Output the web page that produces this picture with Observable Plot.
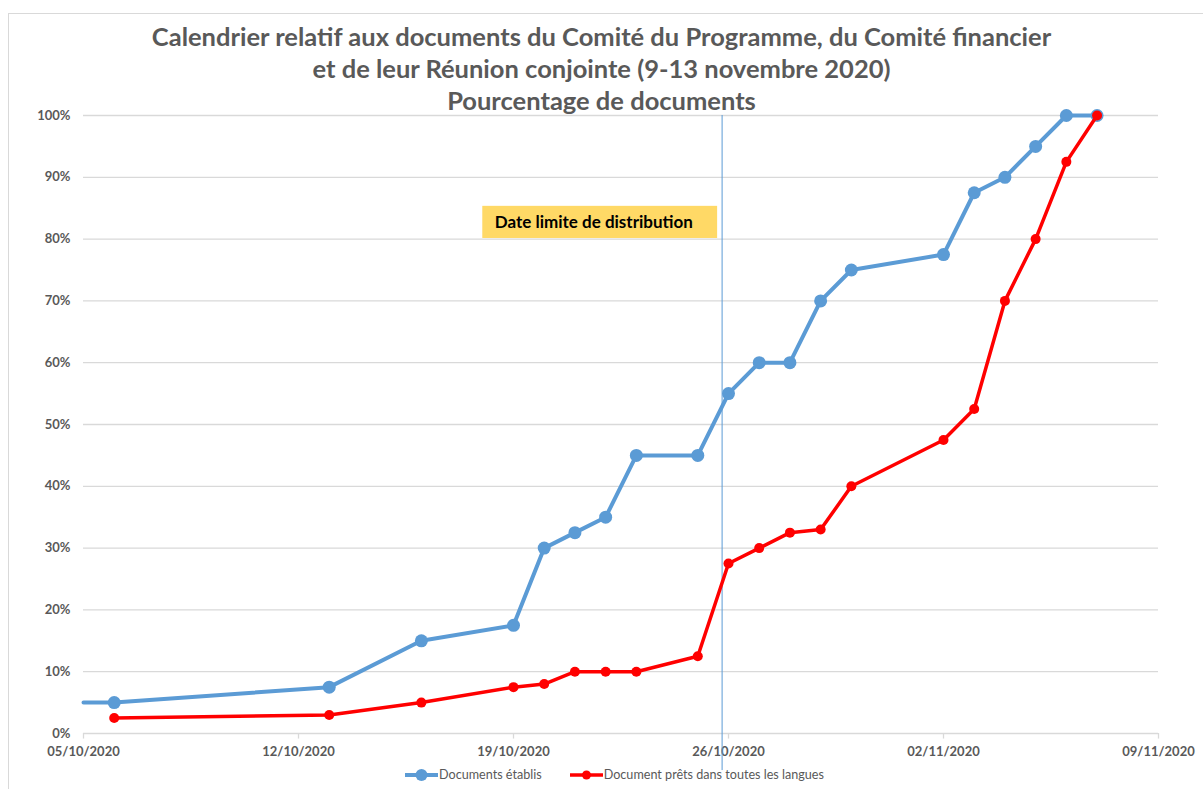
<!DOCTYPE html>
<html>
<head>
<meta charset="utf-8">
<script src="https://cdn.jsdelivr.net/npm/d3@7"></script>
<script src="https://cdn.jsdelivr.net/npm/@observablehq/plot@0.6"></script>
<style>
  html, body { margin: 0; padding: 0; background: #fff; }
  #wrap { position: relative; width: 1203px; height: 789px; overflow: hidden; font-family: Lato, "Open Sans", sans-serif; }
  #frame { position: absolute; left: 8px; top: 13px; width: 1300px; height: 900px; border: 1px solid #d9d9d9; box-sizing: border-box; }
  #title { position: absolute; left: 0; top: 20px; width: 1203px; text-align: center; font-weight: bold; font-size: 25.5px; line-height: 32px; color: #595959; z-index: 2; }
  #chart { position: absolute; left: 0; top: 0; }
  #legend { position: absolute; top: 767px; left: 13px; width: 1203px; text-align: center; font-size: 12.6px; color: #595959; z-index: 2; }
  .item { display: inline-flex; align-items: center; margin: 0 14px; }
  .item svg { margin-right: 1px; }
</style>
</head>
<body>
<div id="wrap">
  <div id="frame"></div>
  <div id="title">Calendrier relatif aux documents du Comité du Programme, du Comité financier<br>et de leur Réunion conjointe (9-13 novembre 2020)<br>Pourcentage de documents</div>
  <div id="chart"></div>
  <div id="legend"></div>
</div>
<script>
// ---- data ----
const dates = ["2020-10-06","2020-10-13","2020-10-16","2020-10-19","2020-10-20","2020-10-21","2020-10-22","2020-10-23","2020-10-25","2020-10-26","2020-10-27","2020-10-28","2020-10-29","2020-10-30","2020-11-02","2020-11-03","2020-11-04","2020-11-05","2020-11-06","2020-11-07"];
const etablis = [5, 7.5, 15, 17.5, 30, 32.5, 35, 45, 45, 55, 60, 60, 70, 75, 77.5, 87.5, 90, 95, 100, 100];
const prets = [2.5, 3, 5, 7.5, 8, 10, 10, 10, 12.5, 27.5, 30, 32.5, 33, 40, 47.5, 52.5, 70, 80, 92.5, 100];
// blue line enters from the left edge of the plot
const etablisLeadDate = "2020-10-05";
const etablisLeadValue = 5;
const seriesNames = ["Documents établis", "Document prêts dans toutes les langues"];
const seriesColors = ["#5b9bd5", "#ff0000"];
const xTicks = ["2020-10-05","2020-10-12","2020-10-19","2020-10-26","2020-11-02","2020-11-09"];
const yTicks = [0,10,20,30,40,50,60,70,80,90,100];
const deadline = "2020-10-25T19:00";
const deadlineLabel = "Date limite de distribution";
const labelBox = {x1: "2020-10-18T00:00", x2: "2020-10-25T15:30", y1: 80.1, y2: 85.3};

const parse = d3.utcParse("%Y-%m-%d");
const parseT = d3.utcParse("%Y-%m-%dT%H:%M");
const fmt = d3.utcFormat("%d/%m/%Y");

const blue = dates.map((d, i) => ({date: parse(d), v: etablis[i]}));
const blueLine = [{date: parse(etablisLeadDate), v: etablisLeadValue}, ...blue];
const red = dates.map((d, i) => ({date: parse(d), v: prets[i]}));

const gray = "#595959";
const grid = "#d9d9d9";

const chart = Plot.plot({
  width: 1203,
  height: 789,
  marginLeft: 83,
  marginRight: 45,
  marginTop: 115,
  marginBottom: 56,
  style: {fontFamily: "Lato, 'Open Sans', sans-serif", background: "transparent", overflow: "visible"},
  x: {type: "utc", domain: [parse(xTicks[0]), parse(xTicks[xTicks.length-1])], ticks: xTicks.map(parse), tickFormat: fmt},
  y: {domain: [0, 100], ticks: yTicks, tickFormat: d => d + "%"},
  marks: [
    Plot.ruleY(yTicks, {y: d => d, stroke: grid, strokeWidth: 1.3}),
    Plot.ruleX(xTicks.map(parse), {x: d => d, y1: 0, y2: -0.9, stroke: grid, strokeWidth: 1.3, clip: false}),
    Plot.axisY({ticks: yTicks, tickFormat: d => d + "%", tickSize: 0, tickPadding: 13, fontSize: 13, fontWeight: "bold", fill: gray}),
    Plot.axisX({ticks: xTicks.map(parse), tickFormat: fmt, tickSize: 0, tickPadding: 13, fontSize: 13, fontWeight: "bold", fill: gray}),
    Plot.rect([labelBox], {x1: d => parseT(d.x1), x2: d => parseT(d.x2), y1: "y1", y2: "y2", fill: "#ffd966"}),
    Plot.text([deadlineLabel], {x: parseT(labelBox.x1), y: (labelBox.y1 + labelBox.y2) / 2, text: d => d, textAnchor: "start", dx: 12, fontSize: 17, fontWeight: "bold", fill: "#000"}),
    Plot.ruleX([parseT(deadline)], {x: d => d, y1: 100, y2: -6, stroke: "#5b9bd5", strokeWidth: 1, clip: false}),
    Plot.line(blueLine, {x: "date", y: "v", stroke: seriesColors[0], strokeWidth: 4}),
    Plot.dot(blue, {x: "date", y: "v", r: 6.5, fill: seriesColors[0]}),
    Plot.line(red, {x: "date", y: "v", stroke: seriesColors[1], strokeWidth: 3.5}),
    Plot.dot(red, {x: "date", y: "v", r: 5, fill: seriesColors[1]})
  ]
});
document.getElementById("chart").appendChild(chart);

// legend
const legend = document.getElementById("legend");
const radii = [6, 4.5];
const widths = [4, 3.5];
seriesNames.forEach((name, i) => {
  const span = document.createElement("span");
  span.className = "item";
  span.innerHTML = `<svg width="33" height="14"><line x1="0" y1="7" x2="33" y2="7" stroke="${seriesColors[i]}" stroke-width="${widths[i]}"/><circle cx="16.5" cy="7" r="${radii[i]}" fill="${seriesColors[i]}"/></svg><span>${name}</span>`;
  legend.appendChild(span);
});
</script>
</body>
</html>
